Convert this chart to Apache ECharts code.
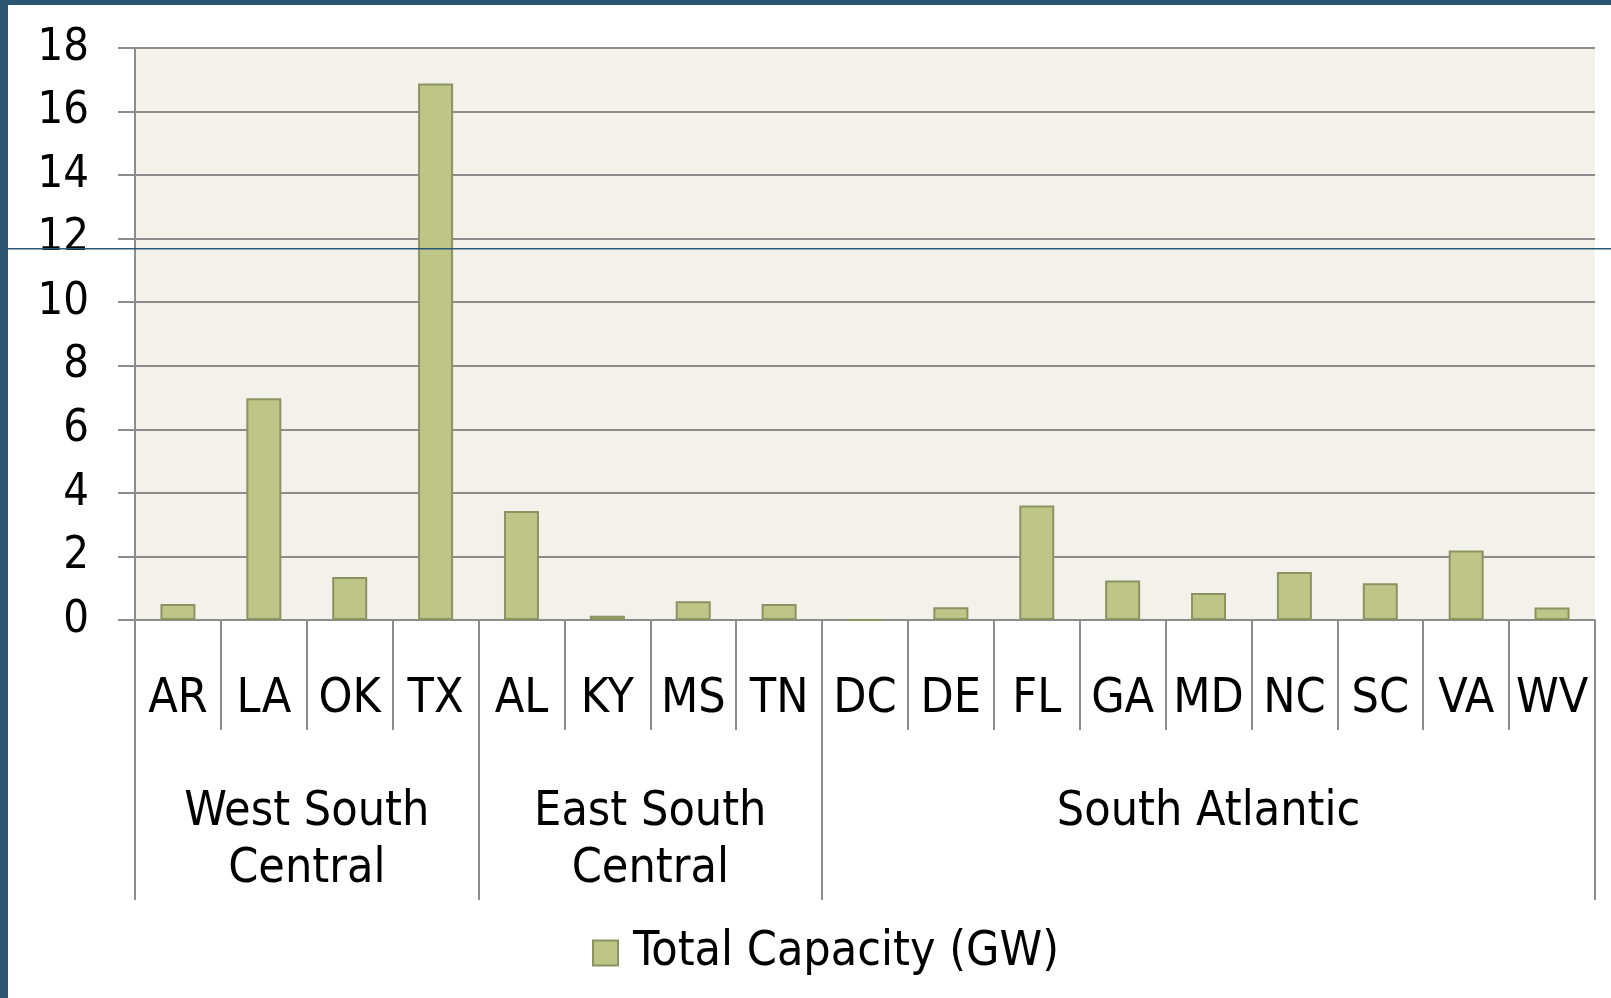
<!DOCTYPE html>
<html>
<head>
<meta charset="utf-8">
<script src="https://cdn.jsdelivr.net/npm/echarts@6/dist/echarts.min.js"></script>
<style>
  html, body { margin: 0; padding: 0; background: #fff; }
  #chart { width: 1611px; height: 998px; }
</style>
</head>
<body>
<div id="chart"></div>
<script>
// states per region, left to right
const states = ["AR", "LA", "OK", "TX", "AL", "KY", "MS", "TN", "DC", "DE", "FL", "GA", "MD", "NC", "SC", "VA", "WV"];
const capacity = [0.5, 6.98, 1.35, 16.88, 3.43, 0.13, 0.59, 0.5, 0, 0.4, 3.6, 1.24, 0.85, 1.51, 1.16, 2.19, 0.39];
const regions = ["West South\nCentral", "East South\nCentral", "South Atlantic"];
const regionSpans = [4, 4, 9];
const seriesName = "Total Capacity (GW)";

const FONT = "'DejaVu Sans Condensed', 'Liberation Sans Narrow', sans-serif";
const GRAY = "#8c8c8c";

// region axis: half-category slots (boundaryGap false), slot i sits at i/2 categories
const regionData = new Array(states.length * 2 + 1).fill("");
const regionTicks = new Set([0]);
let slot = 0;
regions.forEach((name, k) => {
    regionData[slot + regionSpans[k]] = name; // centre of the group
    slot += regionSpans[k] * 2;
    regionTicks.add(slot);
});

const chart = echarts.init(document.getElementById("chart"));

chart.setOption({
    backgroundColor: "#ffffff",
    animation: false,
    grid: {
        left: 135, right: 16, top: 48, bottom: 378,
        show: true, backgroundColor: "#f2f2eb", borderWidth: 0
    },
    legend: {
        data: [seriesName],
        left: 587,
        top: 924,
        icon: "rect",
        itemWidth: 25,
        itemHeight: 25,
        itemStyle: { borderColor: "#8a9460", borderWidth: 2 },
        textStyle: { fontFamily: FONT, fontSize: 48, color: "#000", padding: [0, 0, 0, 10] }
    },
    xAxis: [
        {
            type: "category",
            data: states,
            axisLine: { lineStyle: { color: GRAY, width: 2 } },
            axisTick: { show: true, interval: 0, length: 110, lineStyle: { color: GRAY, width: 2 } },
            axisLabel: {
                interval: 0, margin: 80, fontFamily: FONT, fontSize: 48, color: "#000",
                verticalAlign: "middle"
            },
            splitLine: { show: false }
        },
        {
            type: "category",
            position: "bottom",
            boundaryGap: false,
            data: regionData,
            axisLine: { show: false },
            axisTick: {
                show: true,
                interval: (i) => regionTicks.has(i),
                length: 280,
                lineStyle: { color: GRAY, width: 2 }
            },
            axisLabel: {
                interval: 0, margin: 164, fontFamily: FONT, fontSize: 48, color: "#000",
                lineHeight: 57, verticalAlign: "top", align: "center"
            }
        }
    ],
    yAxis: {
        type: "value",
        min: 0, max: 18, interval: 2,
        axisLine: { show: true, lineStyle: { color: GRAY, width: 2 } },
        axisTick: { show: true, length: 17, lineStyle: { color: GRAY, width: 2 } },
        axisLabel: { margin: 46, fontFamily: FONT, fontSize: 45, color: "#000" },
        splitLine: { lineStyle: { color: GRAY, width: 2 } }
    },
    series: [{
        name: seriesName,
        type: "bar",
        xAxisIndex: 0,
        data: capacity,
        barWidth: 35,
        itemStyle: { color: "#bdc587", borderColor: "#8a9460", borderWidth: 2 }
    }],
    graphic: [
        { type: "rect", left: 0, top: 0, shape: { width: 8, height: 998 }, style: { fill: "#2b5570" }, z: 100 },
        { type: "rect", left: 0, top: 0, shape: { width: 1611, height: 5 }, style: { fill: "#2b5570" }, z: 100 },
        { type: "rect", left: 8, top: 248, shape: { width: 1603, height: 1.5 }, style: { fill: "#2b5877" }, z: 100 }
    ]
});
</script>
</body>
</html>
